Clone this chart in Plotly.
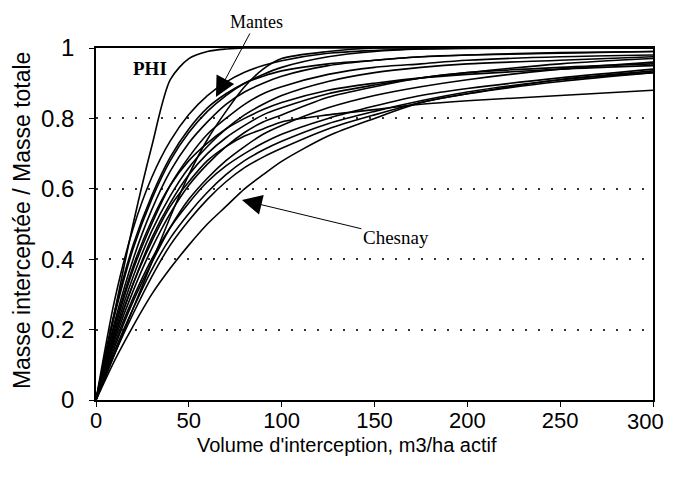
import plotly.graph_objects as go

x_vals = [0, 10, 20, 30, 40, 50, 60, 70, 80, 90, 100, 125, 150, 175, 200, 250, 300]

phi = [0, 0.25, 0.50, 0.72, 0.91, 0.97, 0.99, 0.997, 1.0, 1.0, 1.0, 1.0, 1.0, 1.0, 1.0, 1.0, 1.0]
mantes = [0, 0.13, 0.26, 0.39, 0.52, 0.64, 0.74, 0.82, 0.89, 0.94, 0.97, 0.99, 1.0, 1.0, 1.0, 1.0, 1.0]
chesnay = [0, 0.112, 0.21, 0.30, 0.374, 0.44, 0.50, 0.55, 0.60, 0.64, 0.678, 0.75, 0.80, 0.845, 0.87, 0.91, 0.93]

other_curves = [
    [0, 0.283, 0.487, 0.632, 0.736, 0.811, 0.865, 0.903, 0.931, 0.950, 0.964, 0.985, 0.993, 0.997, 0.999, 1.0, 1.0],
    [0, 0.24, 0.43, 0.57, 0.68, 0.76, 0.82, 0.865, 0.90, 0.925, 0.945, 0.975, 0.99, 0.997, 1.0, 1.0, 1.0],
    [0, 0.25, 0.44, 0.58, 0.69, 0.77, 0.83, 0.87, 0.90, 0.92, 0.935, 0.955, 0.965, 0.975, 0.98, 0.987, 0.99],
    [0, 0.22, 0.40, 0.54, 0.65, 0.73, 0.79, 0.84, 0.875, 0.90, 0.92, 0.95, 0.965, 0.975, 0.98, 0.985, 0.99],
    [0, 0.20, 0.37, 0.50, 0.61, 0.69, 0.755, 0.80, 0.84, 0.87, 0.89, 0.925, 0.945, 0.955, 0.965, 0.975, 0.98],
    [0, 0.19, 0.35, 0.48, 0.58, 0.66, 0.72, 0.77, 0.81, 0.84, 0.865, 0.905, 0.93, 0.945, 0.955, 0.965, 0.975],
    [0, 0.18, 0.33, 0.46, 0.56, 0.64, 0.70, 0.745, 0.78, 0.81, 0.83, 0.87, 0.895, 0.915, 0.93, 0.945, 0.955],
    [0, 0.21, 0.38, 0.51, 0.61, 0.68, 0.73, 0.77, 0.80, 0.825, 0.845, 0.88, 0.90, 0.915, 0.925, 0.94, 0.95],
    [0, 0.18, 0.33, 0.45, 0.55, 0.62, 0.68, 0.72, 0.75, 0.77, 0.79, 0.81, 0.825, 0.84, 0.85, 0.865, 0.88],
    [0, 0.17, 0.31, 0.43, 0.53, 0.61, 0.67, 0.72, 0.76, 0.79, 0.81, 0.86, 0.89, 0.915, 0.93, 0.955, 0.97],
    [0, 0.15, 0.28, 0.39, 0.49, 0.57, 0.63, 0.68, 0.72, 0.755, 0.78, 0.83, 0.865, 0.89, 0.91, 0.94, 0.96],
    [0, 0.16, 0.29, 0.40, 0.49, 0.56, 0.62, 0.665, 0.70, 0.73, 0.755, 0.80, 0.835, 0.865, 0.885, 0.915, 0.94],
    [0, 0.14, 0.26, 0.37, 0.46, 0.53, 0.59, 0.64, 0.68, 0.71, 0.735, 0.785, 0.82, 0.85, 0.875, 0.91, 0.935],
    [0, 0.13, 0.245, 0.35, 0.44, 0.51, 0.57, 0.62, 0.66, 0.69, 0.715, 0.77, 0.81, 0.845, 0.87, 0.905, 0.93],
]

x_ticks = [0, 50, 100, 150, 200, 250, 300]
x_tick_labels = ["0", "50", "100", "150", "200", "250", "300"]
y_ticks = [0, 0.2, 0.4, 0.6, 0.8, 1]
y_tick_labels = ["0", "0.2", "0.4", "0.6", "0.8", "1"]

fig = go.Figure()
all_curves = [phi, mantes, chesnay] + other_curves
for ys in all_curves:
    fig.add_trace(go.Scatter(
        x=x_vals, y=ys, mode="lines",
        line=dict(color="black", width=1.6, shape="spline", smoothing=0.8),
        showlegend=False, hoverinfo="skip"))

serif = "Liberation Serif, Times New Roman, serif"
sans = "Liberation Sans, Arial, sans-serif"

fig.add_annotation(x=29.1, y=0.943, text="<b>PHI</b>", showarrow=False,
                   font=dict(family=serif, size=19, color="black"))
fig.add_annotation(x=64.6, y=0.861, ax=86.2, ay=1.074, axref="x", ayref="y",
                   text="Mantes", showarrow=True, arrowhead=2, arrowsize=4,
                   arrowwidth=1, arrowcolor="black",
                   font=dict(family=serif, size=18, color="black"))
fig.add_annotation(x=78.6, y=0.568, ax=161.5, ay=0.463, axref="x", ayref="y",
                   text="Chesnay", showarrow=True, arrowhead=2, arrowsize=4,
                   arrowwidth=1, arrowcolor="black",
                   font=dict(family=serif, size=19, color="black"))

# last x tick label, nudged left so it stays inside the page
fig.add_annotation(xref="x", yref="paper", x=x_ticks[-1], y=-0.0597,
                   xanchor="center", yanchor="middle", xshift=-8,
                   text=x_tick_labels[-1], showarrow=False,
                   font=dict(family=sans, size=22, color="black"))

# axis titles as positioned text
fig.add_annotation(xref="paper", yref="paper", x=0.4506, y=-0.127,
                   xanchor="center", yanchor="middle",
                   text="Volume d'interception, m3/ha actif", showarrow=False,
                   font=dict(family=sans, size=20, color="black"))
fig.add_annotation(xref="paper", yref="paper", x=-0.1329, y=0.511,
                   xanchor="center", yanchor="middle",
                   text="Masse interceptée / Masse totale", showarrow=False,
                   textangle=-90,
                   font=dict(family=sans, size=23, color="black"))

fig.update_layout(
    width=666, height=470,
    margin=dict(l=88, r=21, t=40, b=78, autoexpand=False),
    paper_bgcolor="white", plot_bgcolor="white",
    font=dict(family=sans, color="black"),
)
fig.update_xaxes(
    range=[0, 300], tickvals=x_ticks,
    ticktext=x_tick_labels[:-1] + [""],
    ticks="outside", ticklen=5,
    tickcolor="black", showline=True, linecolor="black", linewidth=1.5,
    mirror=True, showgrid=False, zeroline=False, automargin=False,
    tickfont=dict(family=sans, size=22), ticklabeloverflow="allow",
    ticklabelstandoff=-5,
)
fig.update_yaxes(
    range=[0, 1], tickvals=y_ticks, ticktext=y_tick_labels, ticks="outside",
    ticklen=5, tickcolor="black", showline=True, linecolor="black",
    linewidth=1.5, mirror=True, showgrid=True, gridcolor="#333",
    griddash="2px,11px", gridwidth=1.5, zeroline=False, automargin=False,
    tickfont=dict(family=sans, size=24), ticklabelstandoff=10,
    ticklabeloverflow="allow",
)

fig.write_html("out.html")
